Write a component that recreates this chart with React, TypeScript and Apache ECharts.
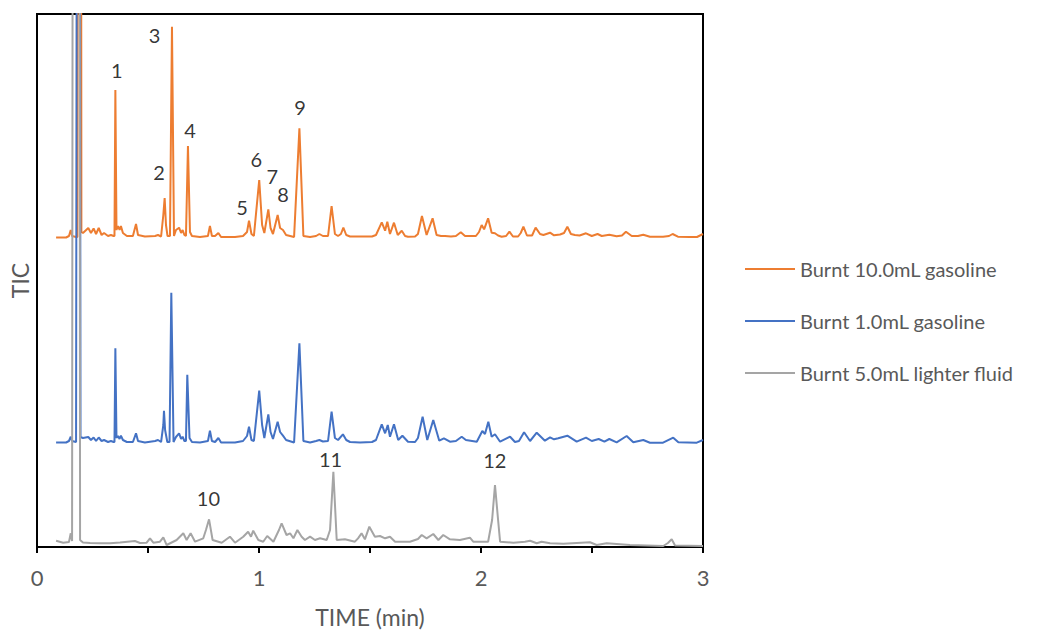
import React, { useEffect, useRef } from "react";
import * as echarts from "echarts";

// Chromatograms: [time (min), TIC (arbitrary units, stacked offsets)]
const orangeTrace: number[][] = [
  [0.086, 309.5], [0.131, 309.5], [0.144, 311], [0.152, 317], [0.158, 311], [0.176, 310], [0.182, 310],
  [0.187, 1500], [0.196, 1500], [0.2, 315], [0.207, 314], [0.231, 319], [0.243, 314], [0.255, 318.5],
  [0.266, 313], [0.278, 319], [0.291, 312], [0.302, 314], [0.32, 311], [0.333, 312], [0.345, 311],
  [0.349, 311], [0.353, 457], [0.358, 317], [0.365, 321], [0.372, 317], [0.378, 321], [0.387, 314],
  [0.405, 311], [0.432, 311], [0.446, 323], [0.455, 312], [0.486, 310.5], [0.532, 311], [0.545, 312],
  [0.559, 310.5], [0.569, 332], [0.575, 349], [0.581, 322], [0.588, 311], [0.599, 311], [0.608, 520.3],
  [0.617, 311], [0.626, 317], [0.64, 319.3], [0.649, 314], [0.656, 317], [0.664, 312], [0.671, 311],
  [0.68, 401], [0.689, 315], [0.698, 311], [0.734, 310], [0.77, 311], [0.779, 321], [0.788, 311],
  [0.802, 311], [0.817, 314], [0.829, 310], [0.892, 310], [0.928, 311], [0.946, 315], [0.955, 326.3],
  [0.966, 313], [0.977, 311], [1.001, 367], [1.014, 322], [1.024, 314], [1.042, 337.7], [1.052, 319],
  [1.063, 313], [1.084, 332], [1.095, 319], [1.108, 317], [1.122, 312], [1.158, 310], [1.182, 418.7],
  [1.2, 311], [1.23, 310], [1.257, 311], [1.272, 313], [1.288, 311], [1.311, 311], [1.327, 341],
  [1.342, 313], [1.356, 311], [1.369, 313], [1.38, 319.3], [1.393, 312], [1.41, 310.5], [1.455, 310.5],
  [1.509, 310.5], [1.527, 312], [1.553, 324.7], [1.568, 316.3], [1.578, 325.3], [1.59, 313], [1.608, 324.3],
  [1.625, 312], [1.643, 316.3], [1.658, 311], [1.671, 310.3], [1.703, 310.5], [1.716, 313], [1.734, 331],
  [1.755, 312], [1.782, 328.7], [1.8, 312], [1.82, 311], [1.838, 311], [1.865, 310.5], [1.887, 311],
  [1.909, 314.7], [1.928, 311], [1.95, 311], [1.977, 311], [1.991, 315], [2.003, 322], [2.014, 317.7],
  [2.032, 328.7], [2.048, 314.3], [2.063, 313.7], [2.077, 311.5], [2.093, 310.3], [2.113, 311],
  [2.128, 315.3], [2.144, 310.5], [2.167, 310.5], [2.179, 314], [2.191, 320.3], [2.207, 311.5],
  [2.23, 311.5], [2.246, 319.3], [2.266, 313], [2.281, 312], [2.311, 314.3], [2.329, 311.7], [2.356, 312.5],
  [2.374, 314], [2.389, 320.3], [2.405, 313], [2.423, 312], [2.444, 311.5], [2.473, 313.7], [2.499, 311],
  [2.525, 313], [2.544, 311], [2.578, 312.3], [2.611, 310.7], [2.635, 311.5], [2.653, 315.3], [2.679, 311],
  [2.707, 311], [2.731, 312.3], [2.761, 310.3], [2.82, 310.3], [2.847, 311], [2.863, 313], [2.887, 310.3],
  [2.941, 310], [2.973, 310], [3.0, 313],
];

const blueTrace: number[][] = [
  [0.086, 104.5], [0.131, 104.5], [0.144, 106], [0.152, 110.3], [0.158, 106], [0.176, 105], [0.182, 1200],
  [0.191, 1200], [0.196, 110], [0.207, 109], [0.231, 110], [0.243, 107], [0.255, 109.5], [0.266, 106],
  [0.278, 109.5], [0.291, 106], [0.302, 107], [0.32, 105], [0.333, 106], [0.345, 105], [0.349, 105],
  [0.353, 198.7], [0.358, 109], [0.365, 111], [0.372, 108], [0.378, 111.3], [0.387, 107], [0.405, 105],
  [0.432, 105], [0.446, 113.7], [0.455, 106], [0.486, 104.5], [0.532, 106], [0.545, 107], [0.559, 105],
  [0.569, 122], [0.572, 136.3], [0.577, 117], [0.587, 105], [0.597, 105], [0.605, 254.3], [0.615, 105],
  [0.626, 110], [0.64, 113.7], [0.649, 108], [0.656, 110.3], [0.664, 106], [0.671, 106], [0.677, 172.3],
  [0.687, 109], [0.698, 105], [0.734, 104.5], [0.77, 106], [0.779, 116.3], [0.788, 106], [0.802, 105],
  [0.817, 109], [0.829, 104.5], [0.892, 104.5], [0.928, 106], [0.946, 111], [0.955, 120.3], [0.966, 107],
  [0.977, 106], [1.001, 156.3], [1.014, 122], [1.024, 109], [1.042, 132.7], [1.052, 115], [1.063, 108],
  [1.084, 125.3], [1.095, 115], [1.108, 111.3], [1.122, 107], [1.158, 104.5], [1.182, 203.7], [1.2, 106],
  [1.23, 104.5], [1.257, 106], [1.272, 107], [1.288, 105.5], [1.311, 106], [1.327, 135.3], [1.342, 109],
  [1.356, 107], [1.378, 112.7], [1.393, 107], [1.41, 105], [1.455, 104.5], [1.509, 105], [1.527, 107],
  [1.553, 122.7], [1.568, 113.7], [1.58, 122], [1.59, 110.3], [1.608, 122.7], [1.627, 107], [1.646, 111.3],
  [1.671, 105.3], [1.703, 105], [1.716, 109], [1.737, 130.3], [1.758, 107], [1.785, 127], [1.812, 106.3],
  [1.833, 108.7], [1.86, 105.3], [1.887, 106], [1.913, 110.3], [1.932, 107], [1.981, 105.3], [2.006, 116],
  [2.018, 113], [2.033, 125.3], [2.048, 110.3], [2.063, 112.7], [2.086, 105.3], [2.131, 110.3], [2.153, 105],
  [2.171, 106], [2.194, 114.7], [2.221, 106], [2.251, 114.3], [2.288, 106.3], [2.311, 109.7], [2.329, 107.7],
  [2.348, 108.7], [2.389, 111.3], [2.431, 105.3], [2.473, 109.3], [2.499, 106], [2.53, 108], [2.556, 105.3],
  [2.578, 108], [2.611, 104.7], [2.656, 111], [2.686, 104.7], [2.731, 107], [2.761, 104.3], [2.82, 104.3],
  [2.866, 109.3], [2.889, 104.7], [2.972, 104.3], [3.0, 107],
];

const grayTrace: number[][] = [
  [0.086, 6.3], [0.118, 4.3], [0.144, 5], [0.152, 13.7], [0.158, 6], [0.161, 6], [0.164, 1500], [0.189, 1500],
  [0.194, 7], [0.207, 4.5], [0.239, 4], [0.284, 3.7], [0.329, 3.7], [0.374, 4.5], [0.441, 6], [0.464, 4],
  [0.494, 4.3], [0.509, 8.7], [0.524, 4.3], [0.554, 5.3], [0.569, 9.7], [0.584, 2], [0.629, 7], [0.659, 13.7],
  [0.674, 7], [0.692, 13.7], [0.712, 5.3], [0.749, 8.7], [0.761, 17], [0.775, 27.7], [0.791, 7], [0.832, 4.3],
  [0.869, 10.3], [0.892, 4.3], [0.929, 10.3], [0.951, 15.3], [0.964, 10.3], [0.974, 16.3], [0.997, 7],
  [1.019, 5.3], [1.037, 11], [1.065, 5.3], [1.09, 17], [1.102, 23.7], [1.124, 12], [1.14, 13.7], [1.155, 8.7],
  [1.173, 17], [1.192, 10.3], [1.207, 7], [1.23, 10.3], [1.252, 7], [1.275, 8.7], [1.305, 7], [1.32, 17],
  [1.335, 75.3], [1.35, 7], [1.387, 7.7], [1.432, 5.3], [1.446, 8.7], [1.462, 13.7], [1.477, 7.7],
  [1.497, 20.3], [1.522, 10.3], [1.545, 11], [1.568, 8.7], [1.59, 10.3], [1.613, 5.3], [1.68, 5.3], [1.716, 8],
  [1.733, 12], [1.755, 8.7], [1.785, 13], [1.808, 7], [1.83, 12], [1.86, 7.7], [1.905, 7], [1.95, 9.3],
  [1.965, 5.3], [2.032, 5.3], [2.05, 27], [2.063, 62], [2.077, 27], [2.086, 5.3], [2.146, 4.3], [2.198, 5.3],
  [2.221, 6.3], [2.251, 3.7], [2.273, 5.3], [2.311, 3.7], [2.371, 3.3], [2.491, 4.7], [2.521, 2], [2.566, 3.7],
  [2.671, 2], [2.821, 1], [2.842, 4], [2.859, 7.7], [2.874, 1.5], [3.0, 1],
];

const seriesNames = ["Burnt 10.0mL gasoline", "Burnt 1.0mL gasoline", "Burnt 5.0mL lighter fluid"];
const seriesColors = ["#ED7D31", "#4472C4", "#A5A5A5"];

// Peak annotation labels: [time, TIC position, label]
const peakLabels: [number, number, string][] = [
  [0.36, 477, "1"], [0.55, 375, "2"], [0.53, 512, "3"], [0.689, 417, "4"], [0.924, 340, "5"],
  [0.988, 388, "6"], [1.060, 371, "7"], [1.108, 353, "8"], [1.185, 440, "9"],
  [0.772, 49, "10"], [1.322, 88, "11"], [2.062, 87, "12"],
];

const xTicks = { min: 0, max: 3, interval: 0.5 };
const FONT = "Lato";

export default function App() {
  const ref = useRef<HTMLDivElement>(null);
  useEffect(() => {
    if (!ref.current) return;
    const chart = echarts.init(ref.current, undefined, { renderer: "svg" });
    const traces = [orangeTrace, blueTrace, grayTrace];
    chart.setOption({
      animation: false,
      backgroundColor: "#ffffff",
      textStyle: { fontFamily: FONT },
      grid: {
        left: 37, top: 14, right: 334, bottom: 86,
        show: true, borderColor: "#000", borderWidth: 2, backgroundColor: "transparent",
      },
      legend: {
        orient: "vertical",
        left: 740,
        top: 252,
        itemWidth: 50,
        itemHeight: 2,
        itemGap: 28,
        icon: "rect",
        data: seriesNames,
        textStyle: { fontFamily: FONT, fontSize: 20, color: "#595959", lineHeight: 24, padding: [0, 0, 0, 0] },
      },
      xAxis: {
        type: "value",
        min: xTicks.min,
        max: xTicks.max,
        interval: xTicks.interval,
        name: "TIME (min)",
        nameLocation: "middle",
        nameGap: 58,
        nameTextStyle: { fontFamily: FONT, fontSize: 23, color: "#595959" },
        axisLine: { show: true, lineStyle: { color: "#000", width: 2 } },
        axisTick: { show: true, length: 6, lineStyle: { color: "#000", width: 2 } },
        axisLabel: {
          fontFamily: FONT, fontSize: 22, color: "#595959", margin: 19,
          formatter: (v: number) => (Number.isInteger(v) ? String(v) : ""),
        },
        splitLine: { show: false },
      },
      yAxis: {
        type: "value",
        min: 0,
        max: 533,
        name: "TIC",
        nameLocation: "middle",
        nameGap: 6,
        nameTextStyle: { fontFamily: FONT, fontSize: 23, color: "#595959" },
        axisLine: { show: true, lineStyle: { color: "#000", width: 2 } },
        axisTick: { show: false },
        axisLabel: { show: false },
        splitLine: { show: false },
      },
      series: [
        ...traces.map((d, i) => ({
          name: seriesNames[i],
          type: "line",
          data: d,
          showSymbol: false,
          symbol: "none",
          clip: true,
          color: seriesColors[i],
          lineStyle: { color: seriesColors[i], width: 2 },
          z: 2 + i,
        })),
        {
          name: "peaks",
          type: "scatter",
          symbolSize: 1,
          itemStyle: { color: "transparent" },
          data: peakLabels.map(([t, v, n]) => ({ value: [t, v], name: n })),
          label: {
            show: true, position: "inside", formatter: "{b}",
            fontFamily: FONT, fontSize: 20, color: "#000", lineHeight: 16,
          },
          silent: true,
          z: 10,
        },
      ],
    });
    return () => chart.dispose();
  }, []);
  return (
    <div
      ref={ref}
      style={{ position: "fixed", left: 0, top: 0, width: 1037, height: 633, background: "#fff" }}
    />
  );
}
